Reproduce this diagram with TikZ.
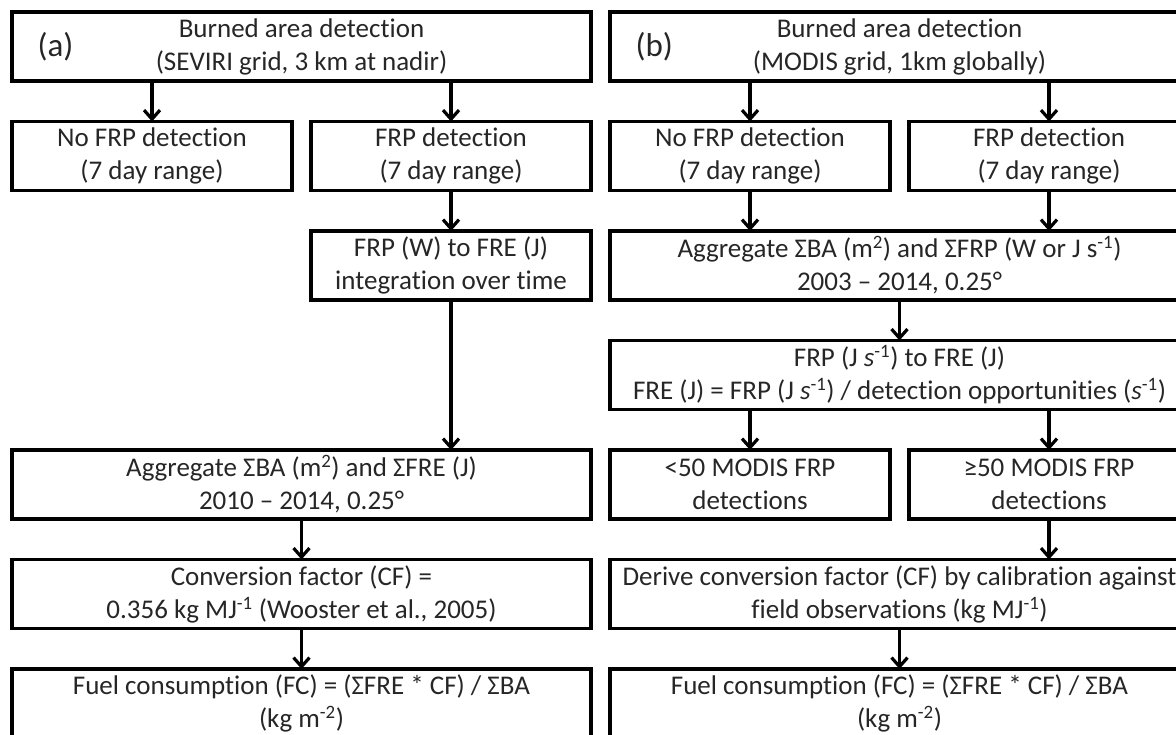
\documentclass[tikz,border=0pt]{standalone}
\usepackage{fontspec}
\setmainfont{Carlito}[Ligatures=CommonOff]
\usepackage{xcolor}
\usepackage{tikz}
\usetikzlibrary{positioning,arrows.meta}

\newcommand{\boxfont}{\fontsize{27}{33}\selectfont}

\begin{document}
\begin{tikzpicture}[node distance=40.5pt,
    box/.style={draw, line width=3.6pt, outer sep=0pt, inner xsep=4pt, minimum height=69pt, align=center, font=\boxfont, text=black!85},
    wide/.style={box, minimum width=579pt},
    half/.style={box, minimum width=280pt},
    tag/.style={anchor=west, font=\fontsize{33}{40}\selectfont, text=black!85},
    flow/.style={-{Straight Barb[length=9pt,width=16pt]}, line width=3.2pt}]
                \useasboundingbox (0pt,0pt) rectangle (1176pt,-735pt);

                \node[wide] (topA) at (301.5pt,-46.5pt) {Burned area detection\\(SEVIRI grid, 3 km at nadir)};
                \node[tag] (labA) at ([xshift=22pt]topA.west) {(a)};
                \node[half, below=of topA.south west, anchor=north west] (nofrpA) {No FRP detection\\(7 day range)};
                \node[half, below=of topA.south east, anchor=north east] (frpA) {FRP detection\\(7 day range)};
                \node[half, below=of frpA] (frpwA) {FRP (W) to FRE (J)\\integration over time};
                \node[wide, below=150pt of frpwA.south east, anchor=north east] (aggA) {Aggregate ΣBA (m\textsuperscript{2}) and ΣFRE (J)\\2010 – 2014, 0.25°};
                \node[wide, below=of aggA] (convA) {Conversion factor (CF) =\\0.356 kg MJ\textsuperscript{-1} (Wooster et al., 2005)};
                \node[wide, below=of convA] (fuelA) {Fuel consumption (FC) = (ΣFRE * CF) / ΣBA\\(kg m\textsuperscript{-2})};

                \node[wide] (topB) at (899.5pt,-46.5pt) {Burned area detection\\(MODIS grid, 1km globally)};
                \node[tag] (labB) at ([xshift=22pt]topB.west) {(b)};
                \node[half, below=of topB.south west, anchor=north west] (nofrpB) {No FRP detection\\(7 day range)};
                \node[half, below=of topB.south east, anchor=north east] (frpB) {FRP detection\\(7 day range)};
                \node[wide, below=of nofrpB.south west, anchor=north west] (aggB) {Aggregate ΣBA (m\textsuperscript{2}) and ΣFRP (W or J s\textsuperscript{-1})\\2003 – 2014, 0.25°};
                \node[wide, below=of aggB] (freB) {FRP (J \textit{s}\textsuperscript{-1}) to FRE (J)\\FRE (J) = FRP (J \textit{s}\textsuperscript{-1}) / detection opportunities (\textit{s}\textsuperscript{-1})};
                \node[half, below=of freB.south west, anchor=north west] (lowB) {<50 MODIS FRP\\detections};
                \node[half, below=of freB.south east, anchor=north east] (highB) {≥50 MODIS FRP\\detections};
                \node[wide, below=of highB.south east, anchor=north east] (derB) {Derive conversion factor (CF) by calibration against\\field observations (kg MJ\textsuperscript{-1})};
                \node[wide, below=of derB] (fuelB) {Fuel consumption (FC) = (ΣFRE * CF) / ΣBA\\(kg m\textsuperscript{-2})};

                \draw[flow] (nofrpA.north |- topA.south) -- (nofrpA.north);
                \draw[flow] (frpA.north |- topA.south) -- (frpA.north);
                \draw[flow] (frpA) -- (frpwA);
                \draw[flow] (frpwA.south) -- (frpwA.south |- aggA.north);
                \draw[flow] (aggA) -- (convA);
                \draw[flow] (convA) -- (fuelA);

                \draw[flow] (nofrpB.north |- topB.south) -- (nofrpB.north);
                \draw[flow] (frpB.north |- topB.south) -- (frpB.north);
                \draw[flow] (nofrpB.south) -- (nofrpB.south |- aggB.north);
                \draw[flow] (frpB.south) -- (frpB.south |- aggB.north);
                \draw[flow] (aggB) -- (freB);
                \draw[flow] (lowB.north |- freB.south) -- (lowB.north);
                \draw[flow] (highB.north |- freB.south) -- (highB.north);
                \draw[flow] (highB.south) -- (highB.south |- derB.north);
                \draw[flow] (derB) -- (fuelB);
            \end{tikzpicture}
\end{document}
